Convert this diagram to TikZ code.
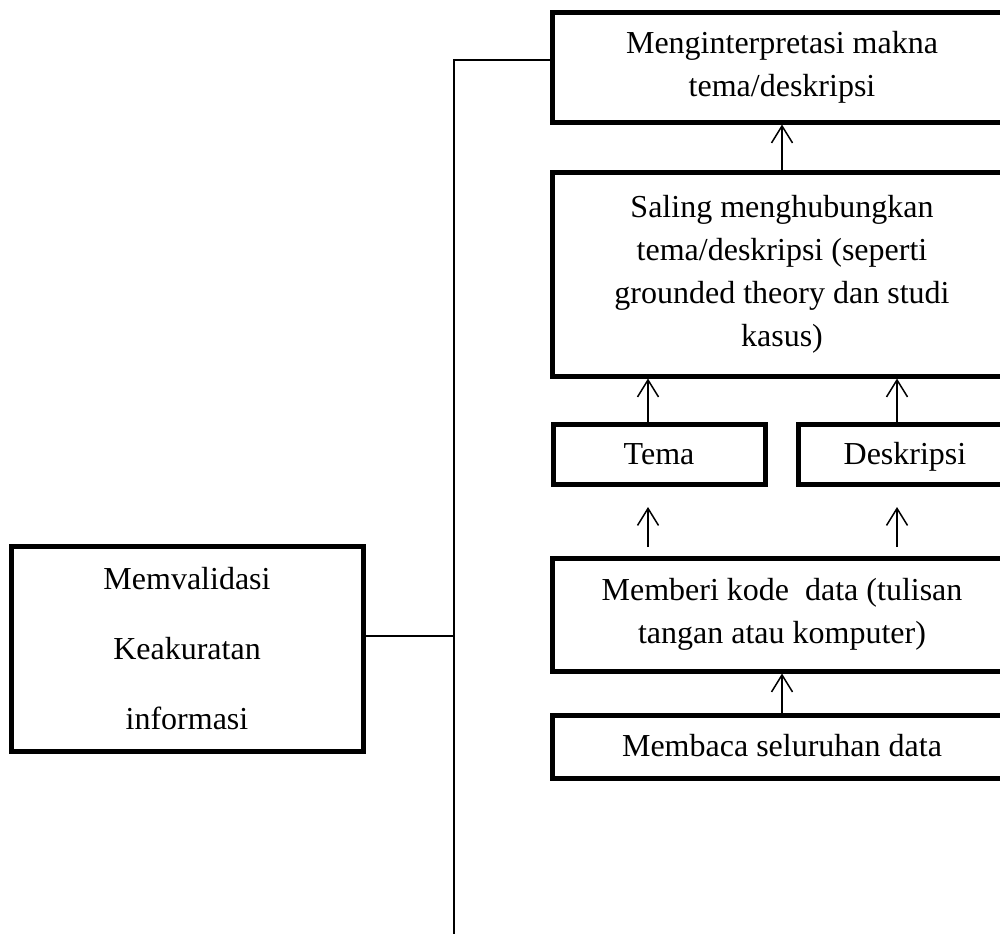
\documentclass[tikz,border=0pt]{standalone}
\usepackage{fontspec}
\setmainfont{Liberation Serif}
\usetikzlibrary{arrows.meta}
\tikzset{
  box/.style={draw, line width=2.5pt, rectangle, inner sep=0pt, align=center, font=\fontsize{16}{21.5}\selectfont},
  oneline/.style={text height=12pt, text depth=2pt},
  conn/.style={line width=0.75pt},
  arr/.style={line width=0.75pt, -{Straight Barb[length=8.5pt,width=10.5pt,line width=0.75pt]}}
}
\begin{document}
\begin{tikzpicture}[x=0.5pt,y=-0.5pt]
\useasboundingbox (0,0) rectangle (1000,933);
\clip (0,0) rectangle (1000,933);
\node[box, minimum width=230pt, minimum height=55pt] (interp) at (782,67) {Menginterpretasi makna\\tema/deskripsi};
\node[box, minimum width=230pt, minimum height=102pt] (saling) at (782,274) {Saling menghubungkan\\tema/deskripsi (seperti\\grounded theory dan studi\\kasus)};
\node[box, oneline, minimum width=106pt, minimum height=30pt] (tema) at (659,454) {Tema};
\node[box, oneline, minimum width=107pt, minimum height=30pt] (desk) at (905,454) {Deskripsi};
\node[box, minimum width=230pt, minimum height=56.5pt] (memberi) at (782,614.5) {Memberi kode\ \ data (tulisan\\tangan atau komputer)};
\node[box, oneline, minimum width=230pt, minimum height=31.5pt] (membaca) at (782,746.5) {Membaca seluruhan data};
\node[box, minimum width=176pt, minimum height=102.5pt, font=\fontsize{16}{35}\selectfont] (valid) at (187,648.5) {Memvalidasi\\Keakuratan\\informasi};
\coordinate (xa) at (648,0);
\coordinate (xb) at (897,0);
\coordinate (m1) at (648,547);
\coordinate (t1) at (648,507);
\coordinate (m2) at (897,547);
\coordinate (t2) at (897,507);
\coordinate (topc) at (454,60);
\coordinate (botc) at (454,940);
\coordinate (jc) at (454,636);
\draw[arr] (saling.north) -- (interp.south);
\draw[arr] (tema.north -| xa) -- (saling.south -| xa);
\draw[arr] (desk.north -| xb) -- (saling.south -| xb);
\draw[arr] (m1) -- (t1);
\draw[arr] (m2) -- (t2);
\draw[arr] (membaca.north) -- (memberi.south);
\draw[conn] (interp.west |- topc) -- (topc) -- (botc);
\draw[conn] (valid.east |- jc) -- (jc);
\end{tikzpicture}
\end{document}
